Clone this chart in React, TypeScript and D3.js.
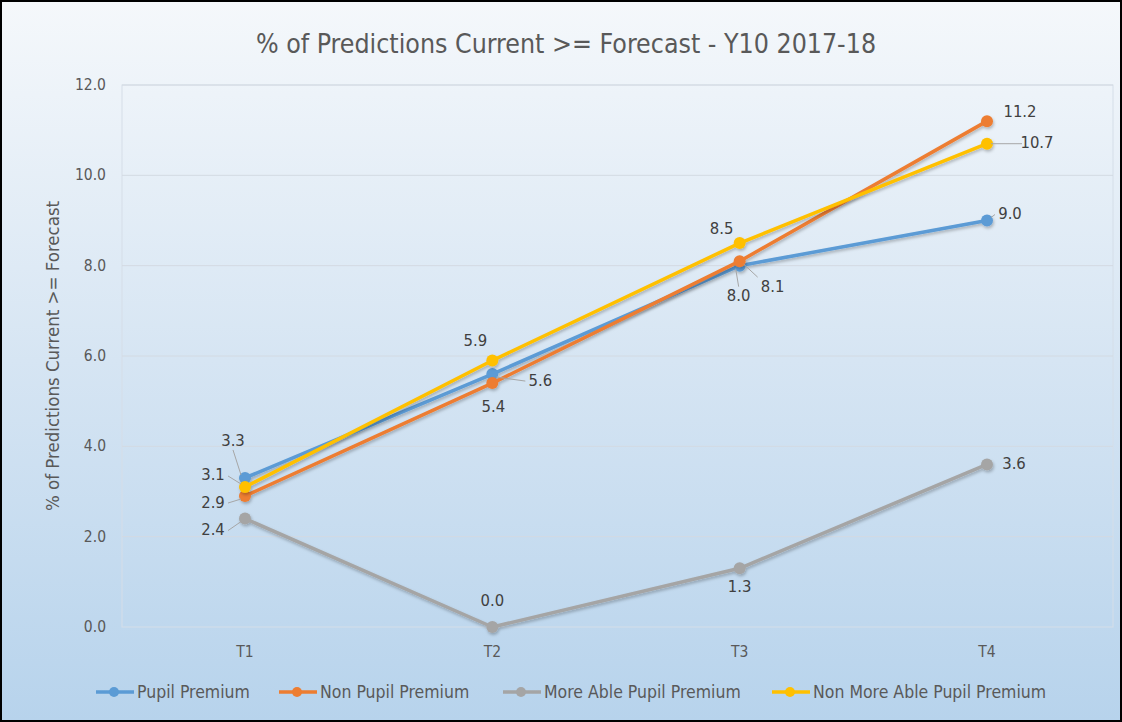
import React from "react";
import * as d3 from "d3";

const categories = ["T1", "T2", "T3", "T4"];
const seriesNames = ["Pupil Premium", "Non Pupil Premium", "More Able Pupil Premium", "Non More Able Pupil Premium"];
const pupilPremium = [3.3, 5.6, 8.0, 9.0];
const nonPupilPremium = [2.9, 5.4, 8.1, 11.2];
const moreAblePupilPremium = [2.4, 0.0, 1.3, 3.6];
const nonMoreAblePupilPremium = [3.1, 5.9, 8.5, 10.7];
const yTicks = [0, 2, 4, 6, 8, 10, 12];

const colors = ["#5b9bd5", "#ed7d31", "#a5a5a5", "#ffc000"];
// label placement offsets (dx, dy from point) and leader flag, per series per category
const labelOffsets: [number, number, boolean][][] = [
  [[-12, -36, true], [48, 7, true], [-1, 31, true], [23, -6, true]],
  [[-32, 7, true], [1, 24, false], [33, 26, true], [33, -9, false]],
  [[-32, 12, true], [0, -26, false], [0, 19, false], [27, 0, false]],
  [[-32, -11, true], [-17, -19, false], [-18, -14, false], [50, 0, true]],
];

const W = 1122, H = 722;
const FONT = "'Liberation Sans Narrow', 'DejaVu Sans Condensed', 'Open Sans', sans-serif";

export default function App() {
  const x = d3.scalePoint<string>().domain(categories).range([245, 987]);
  const y = d3.scaleLinear().domain([0, 12]).range([627, 85]);
  const data = [pupilPremium, nonPupilPremium, moreAblePupilPremium, nonMoreAblePupilPremium];
  const line = d3.line<number>().x((_, i) => x(categories[i]) as number).y((v) => y(v));
  const legendCx = [114, 297, 521, 790];

  return (
    <svg width={W} height={H} style={{ position: "absolute", left: 0, top: 0 }} fontFamily={FONT}>
      <defs>
        <linearGradient id="bg" x1="0" y1="0" x2="0" y2="1">
          <stop offset="0" stopColor="#f5f8fb" />
          <stop offset="0.5" stopColor="#d6e5f3" />
          <stop offset="1" stopColor="#b7d3ec" />
        </linearGradient>
        <filter id="sh" x="-10%" y="-10%" width="120%" height="120%">
          <feDropShadow dx="1" dy="2" stdDeviation="1.5" floodColor="#000" floodOpacity="0.25" />
        </filter>
      </defs>
      <rect x={1} y={1} width={W - 2} height={H - 2} fill="url(#bg)" stroke="#000" strokeWidth={2} />
      <text x={566} y={53} textAnchor="middle" fontSize={26.5} fill="#595959">
        % of Predictions Current &gt;= Forecast - Y10 2017-18
      </text>
      <rect x={122} y={85} width={991} height={542} fill="none" stroke="#d5dee8" strokeWidth={1} />
      {yTicks.map((t) => (
        <g key={t}>
          {t > 0 && <line x1={122} x2={1113} y1={y(t)} y2={y(t)} stroke="#d3dae2" strokeWidth={1} />}
          <text x={106} y={y(t) + 5} textAnchor="end" fontSize={15.5} fill="#595959">
            {t.toFixed(1)}
          </text>
        </g>
      ))}
      <line x1={122} x2={1113} y1={y(0)} y2={y(0)} stroke="#8497a8" strokeWidth={2} filter="url(#sh)" />
      {categories.map((c) => (
        <text key={c} x={x(c)} y={657} textAnchor="middle" fontSize={15.5} fill="#595959">
          {c}
        </text>
      ))}
      <text transform="translate(59,356) rotate(-90)" textAnchor="middle" fontSize={18.5} fill="#595959">
        % of Predictions Current &gt;= Forecast
      </text>
      {data.map((vals, si) => (
        <g key={si} filter="url(#sh)">
          <path d={line(vals) as string} fill="none" stroke={colors[si]} strokeWidth={3.5} strokeLinejoin="round" />
          {vals.map((v, i) => (
            <circle key={i} cx={x(categories[i])} cy={y(v)} r={6} fill={colors[si]} />
          ))}
        </g>
      ))}
      {data.map((vals, si) =>
        vals.map((v, i) => {
          const px = x(categories[i]) as number;
          const py = y(v);
          const [dx, dy, leader] = labelOffsets[si][i];
          const lx = px + dx, ly = py + dy;
          return (
            <g key={`${si}-${i}`}>
              {leader && (
                <line
                  x1={px + Math.sign(dx) * 4}
                  y1={py + Math.sign(dy) * 3}
                  x2={lx - Math.sign(dx) * (Math.abs(dx) > 20 ? 15 : 0)}
                  y2={ly + (dy < -20 ? 8 : dy > 20 ? -10 : 0)}
                  stroke="#a6a6a6"
                  strokeWidth={1}
                />
              )}
              <text x={lx} y={ly} textAnchor="middle" dominantBaseline="middle" fontSize={16.5} fill="#404040">
                {v.toFixed(1)}
              </text>
            </g>
          );
        })
      )}
      {seriesNames.map((n, si) => (
        <g key={n}>
          <line x1={legendCx[si] - 18} x2={legendCx[si] + 20} y1={692} y2={692} stroke={colors[si]} strokeWidth={3.5} />
          <circle cx={legendCx[si]} cy={692} r={5} fill={colors[si]} />
          <text x={legendCx[si] + 23} y={698} fontSize={17.5} fill="#595959">
            {n}
          </text>
        </g>
      ))}
    </svg>
  );
}
